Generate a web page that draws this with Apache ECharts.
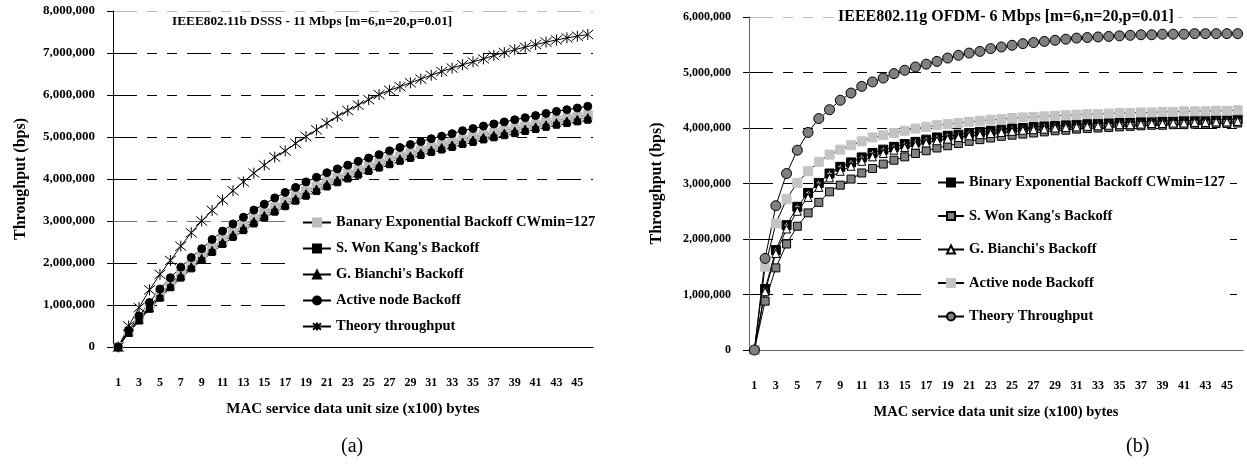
<!DOCTYPE html>
<html>
<head>
<meta charset="utf-8">
<script src="https://cdn.jsdelivr.net/npm/echarts@6/dist/echarts.min.js"></script>
<style>
  html, body { margin: 0; padding: 0; background: #fff; }
  #left { position: absolute; left: 0; top: 0; width: 630px; height: 473px; }
  #right { position: absolute; left: 630px; top: 0; width: 617px; height: 473px; }
</style>
</head>
<body>
<div id="left"></div>
<div id="right"></div>
<script>
// MSDU size categories (x100 bytes)
var sizes = ['1','2','3','4','5','6','7','8','9','10','11','12','13','14','15','16','17','18','19','20',
  '21','22','23','24','25','26','27','28','29','30','31','32','33','34','35','36','37','38','39','40',
  '41','42','43','44','45','46'];

// (a) 802.11b, throughput in Mbps (scaled to bps below)
var bBanary = [0,0.37,0.68,0.97,1.24,1.50,1.74,1.96,2.16,2.36,2.55,2.73,2.89,3.05,3.19,3.33,3.46,3.59,3.71,3.82,
  3.93,4.03,4.12,4.21,4.30,4.38,4.46,4.54,4.61,4.68,4.75,4.81,4.87,4.94,4.99,5.05,5.10,5.15,5.20,5.25,
  5.30,5.35,5.40,5.44,5.48,5.52];
var bKang = [0,0.33,0.62,0.90,1.16,1.41,1.64,1.86,2.06,2.25,2.44,2.61,2.77,2.93,3.07,3.21,3.34,3.47,3.59,3.70,
  3.81,3.91,4.00,4.09,4.18,4.26,4.34,4.42,4.49,4.56,4.63,4.69,4.75,4.82,4.87,4.93,4.98,5.03,5.08,5.13,
  5.18,5.23,5.28,5.32,5.36,5.40];
var bBianchi = [0,0.35,0.65,0.93,1.20,1.45,1.69,1.91,2.11,2.30,2.49,2.67,2.83,2.99,3.13,3.27,3.40,3.53,3.65,3.76,
  3.87,3.97,4.06,4.15,4.24,4.32,4.40,4.48,4.55,4.62,4.69,4.75,4.81,4.88,4.93,4.99,5.04,5.09,5.14,5.19,
  5.24,5.29,5.34,5.38,5.42,5.46];
var bActive = [0,0.40,0.74,1.06,1.38,1.65,1.90,2.13,2.34,2.56,2.76,2.93,3.09,3.26,3.40,3.55,3.68,3.80,3.93,4.04,
  4.15,4.24,4.33,4.42,4.50,4.58,4.67,4.75,4.82,4.89,4.96,5.02,5.08,5.15,5.20,5.26,5.31,5.36,5.41,5.46,
  5.51,5.56,5.61,5.65,5.69,5.73];
var bTheory = [0,0.50,0.94,1.36,1.73,2.06,2.40,2.72,3.00,3.25,3.50,3.72,3.93,4.14,4.33,4.52,4.67,4.85,5.01,5.17,
  5.33,5.49,5.63,5.76,5.89,6.01,6.11,6.20,6.29,6.38,6.47,6.56,6.64,6.72,6.79,6.86,6.94,7.01,7.08,7.14,
  7.20,7.26,7.31,7.36,7.40,7.44];

// (b) 802.11g
var gBinary = [0,1.10,1.80,2.25,2.58,2.83,3.01,3.18,3.30,3.38,3.47,3.55,3.61,3.66,3.71,3.75,3.79,3.83,3.86,3.88,
  3.91,3.93,3.95,3.97,3.99,4.00,4.02,4.03,4.04,4.05,4.06,4.07,4.08,4.09,4.10,4.10,4.11,4.12,4.12,4.13,
  4.13,4.14,4.14,4.15,4.15,4.16];
var gKang = [0,0.88,1.48,1.91,2.23,2.47,2.66,2.85,2.97,3.08,3.19,3.27,3.35,3.42,3.48,3.54,3.59,3.64,3.68,3.72,
  3.76,3.79,3.82,3.85,3.87,3.89,3.91,3.93,3.95,3.96,3.98,3.99,4.00,4.01,4.02,4.03,4.04,4.05,4.05,4.06,
  4.06,4.07,4.07,4.08,4.08,4.09];
var gBianchi = [0,1.05,1.74,2.18,2.50,2.75,2.93,3.10,3.22,3.31,3.40,3.48,3.54,3.60,3.65,3.69,3.73,3.77,3.80,3.83,
  3.86,3.88,3.90,3.92,3.94,3.96,3.97,3.98,4.00,4.01,4.02,4.03,4.04,4.05,4.06,4.06,4.07,4.08,4.08,4.09,
  4.09,4.10,4.10,4.11,4.11,4.12];
var gActive = [0,1.50,2.28,2.72,3.01,3.22,3.39,3.52,3.61,3.69,3.76,3.83,3.87,3.91,3.95,3.99,4.02,4.05,4.07,4.09,
  4.11,4.13,4.15,4.16,4.18,4.19,4.20,4.21,4.22,4.23,4.24,4.25,4.25,4.26,4.27,4.27,4.28,4.28,4.29,4.29,
  4.30,4.30,4.30,4.31,4.31,4.32];
var gTheory = [0,1.65,2.60,3.18,3.60,3.92,4.17,4.33,4.50,4.63,4.75,4.83,4.90,4.98,5.04,5.10,5.15,5.20,5.26,5.31,
  5.35,5.38,5.43,5.46,5.49,5.52,5.54,5.56,5.58,5.60,5.62,5.63,5.64,5.65,5.66,5.67,5.68,5.68,5.69,5.69,
  5.69,5.70,5.70,5.70,5.70,5.70];

function bps(arr) { return arr.map(function (v) { return Math.round(v * 1e6); }); }
function fmt(v) { return v.toLocaleString('en-US'); }

var FONT = 'Liberation Serif';
var dash = [24, 10, 10, 10, 10, 10];
// black square with a plus-shaped hole
var plusBox = 'path://M0,0H10V10H0Z M4,2L4,4L2,4L2,6L4,6L4,8L6,8L6,6L8,6L8,4L6,4L6,2Z';
var asterisk = 'path://M0,0L10,10M10,0L0,10M5,-1L5,11';

function line(name, data, symbol, size, fill, border) {
  return {
    name: name, type: 'line', data: bps(data),
    symbol: symbol, symbolSize: size, showAllSymbol: true,
    lineStyle: { color: '#000', width: 1 },
    itemStyle: { color: fill, borderColor: border || fill, borderWidth: 1 }
  };
}

// ---------- (a) ----------
var chartA = echarts.init(document.getElementById('left'));
chartA.setOption({
  animation: false,
  title: {
    text: 'IEEE802.11b DSSS - 11 Mbps [m=6,n=20,p=0.01]',
    left: 172, top: 15, padding: 0,
    textStyle: { fontFamily: FONT, fontWeight: 'bold', fontSize: 13.3, color: '#000' }
  },
  legend: {
    orient: 'vertical', left: 290, top: 212,
    padding: [3, 5, 3, 12], itemGap: 11, itemWidth: 28, itemHeight: 10,
    backgroundColor: '#fff',
    textStyle: { fontFamily: FONT, fontWeight: 'bold', fontSize: 14.5, color: '#000' },
    data: ['Banary Exponential Backoff CWmin=127', "S. Won Kang's Backoff", "G. Bianchi's Backoff",
      'Active node Backoff', 'Theory throughput']
  },
  grid: { left: 113, top: 11, width: 480, height: 336 },
  xAxis: {
    type: 'category', data: sizes, boundaryGap: true,
    name: 'MAC service data unit size (x100) bytes', nameLocation: 'middle', nameGap: 55,
    nameTextStyle: { fontFamily: FONT, fontWeight: 'bold', fontSize: 15, color: '#000' },
    axisLine: { lineStyle: { color: '#000' } },
    axisTick: { interval: 0, length: 5, lineStyle: { color: '#000' } },
    axisLabel: { interval: 1, margin: 30, fontFamily: FONT, fontWeight: 'bold', fontSize: 12, color: '#000' }
  },
  yAxis: {
    type: 'value', min: 0, max: 8000000, interval: 1000000,
    name: 'Throughput (bps)', nameLocation: 'middle', nameGap: 84, nameRotate: 90,
    nameTextStyle: { fontFamily: FONT, fontWeight: 'bold', fontSize: 16, color: '#000' },
    axisLine: { show: true, lineStyle: { color: '#000' } },
    axisTick: { show: true, length: 6, lineStyle: { color: '#000' } },
    axisLabel: { formatter: fmt, margin: 18, fontFamily: FONT, fontWeight: 'bold', fontSize: 13, color: '#000' },
    splitLine: { lineStyle: { type: dash, width: 1,
      color: ['#000', '#000', '#000', '#777', '#000', '#000', '#000', '#000', '#bbb'] } }
  },
  graphic: [{
    type: 'text', left: 341, top: 437,
    style: { text: '(a)', fontFamily: FONT, fontSize: 20, fill: '#000' }
  }],
  series: [
    line('Banary Exponential Backoff CWmin=127', bBanary, 'rect', 9, '#bdbdbd'),
    line("S. Won Kang's Backoff", bKang, 'rect', 6, '#000'),
    line("G. Bianchi's Backoff", bBianchi, 'triangle', 8, '#000'),
    line('Active node Backoff', bActive, 'circle', 8, '#000'),
    line('Theory throughput', bTheory, asterisk, 11, 'none', '#000')
  ]
});

// ---------- (b) ----------
var chartB = echarts.init(document.getElementById('right'));
chartB.setOption({
  animation: false,
  title: {
    text: 'IEEE802.11g OFDM- 6 Mbps [m=6,n=20,p=0.01]',
    left: 204, top: 8, padding: [1, 4],
    backgroundColor: '#fff',
    textStyle: { fontFamily: FONT, fontWeight: 'bold', fontSize: 16, color: '#000' }
  },
  legend: {
    orient: 'vertical', left: 292, top: 171,
    padding: [4, 5, 4, 15], itemGap: 18.5, itemWidth: 26, itemHeight: 10,
    backgroundColor: '#fff',
    textStyle: { fontFamily: FONT, fontWeight: 'bold', fontSize: 14.5, color: '#000' },
    data: ['Binary Exponential Backoff CWmin=127', "S. Won Kang's Backoff", "G. Bianchi's Backoff",
      'Active node Backoff', 'Theory Throughput']
  },
  grid: { left: 119, top: 17, width: 494, height: 333 },
  xAxis: {
    type: 'category', data: sizes, boundaryGap: true,
    name: 'MAC service data unit size (x100) bytes', nameLocation: 'middle', nameGap: 55,
    nameTextStyle: { fontFamily: FONT, fontWeight: 'bold', fontSize: 14.5, color: '#000' },
    axisLine: { lineStyle: { color: '#666' } },
    axisTick: { interval: 0, length: 5, lineStyle: { color: '#000' } },
    axisLabel: { interval: 1, margin: 30, fontFamily: FONT, fontWeight: 'bold', fontSize: 12, color: '#000' }
  },
  yAxis: {
    type: 'value', min: 0, max: 6000000, interval: 1000000,
    name: 'Throughput (bps)', nameLocation: 'middle', nameGap: 84, nameRotate: 90,
    nameTextStyle: { fontFamily: FONT, fontWeight: 'bold', fontSize: 16, color: '#000' },
    axisLine: { show: true, lineStyle: { color: '#666' } },
    axisTick: { show: true, length: 6, lineStyle: { color: '#000' } },
    axisLabel: { formatter: fmt, margin: 18, fontFamily: FONT, fontWeight: 'bold', fontSize: 12, color: '#000' },
    splitLine: { lineStyle: { type: dash, width: 1,
      color: ['#000', '#000', '#000', '#000', '#000', '#000', '#bbb'] } }
  },
  graphic: [{
    type: 'text', left: 496, top: 437,
    style: { text: '(b)', fontFamily: FONT, fontSize: 20, fill: '#000' }
  }],
  series: [
    line('Binary Exponential Backoff CWmin=127', gBinary, plusBox, 9, '#000'),
    line("S. Won Kang's Backoff", gKang, 'rect', 8, '#808080', '#000'),
    line("G. Bianchi's Backoff", gBianchi, 'triangle', 8, '#fff', '#000'),
    line('Active node Backoff', gActive, 'rect', 9, '#c4c4c4'),
    line('Theory Throughput', gTheory, 'circle', 10, '#808080', '#000')
  ]
});
</script>
</body>
</html>
